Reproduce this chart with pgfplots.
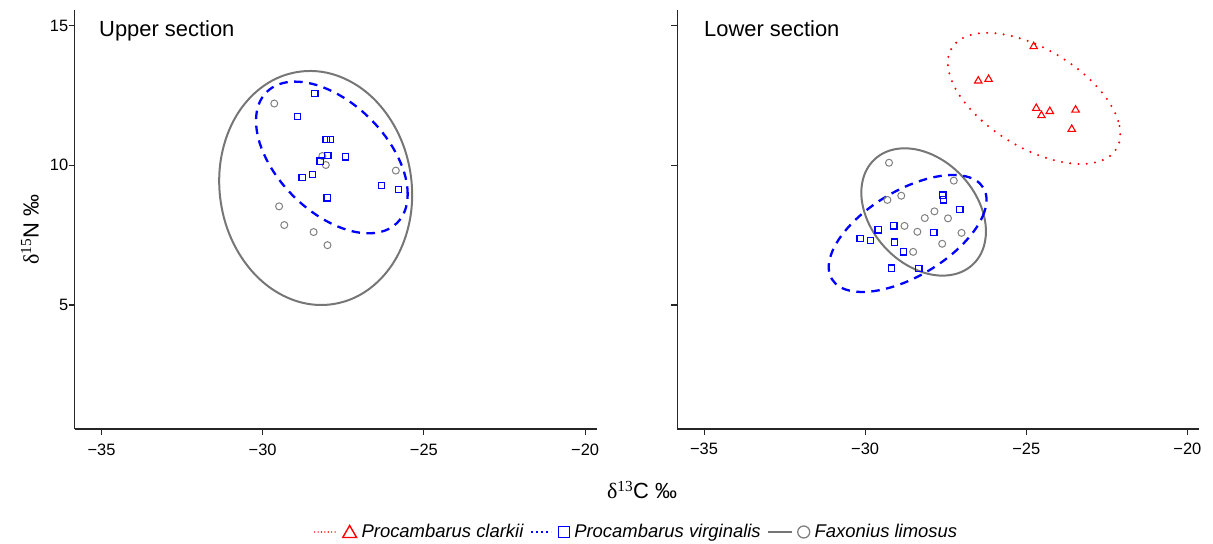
\documentclass[border=0pt]{standalone}
\usepackage{fontspec}
\setmainfont{Liberation Sans}
\newfontfamily\symfont{Liberation Serif}
\usepackage{pgfplots}
\pgfplotsset{compat=1.18}
\definecolor{pblue}{RGB}{0,0,255}
\definecolor{pred}{RGB}{255,0,0}
\definecolor{fgray}{RGB}{128,128,128}
\definecolor{egray}{RGB}{118,118,118}

\tikzset{sect title/.style={anchor=base west, inner sep=0pt, font=\fontsize{22}{26}\selectfont}}

\pgfplotsset{
  panel/.style={
    scale only axis, width=522bp, height=418.5bp,
    xmin=-35.83, xmax=-19.64, ymin=0.56, ymax=15.54,
    axis x line*=bottom, axis y line*=left,
    axis line style={-, line width=1.4bp, black!85},
    tick align=outside, major tick length=6bp,
    every tick/.style={black!85, line width=1.1bp},
    xtick={-35,-30,-25,-20}, xticklabels={−35,−30,−25,−20},
    ytick={5,10,15},
    tick label style={font=\fontsize{16.5}{19}\selectfont},
    xticklabel style={yshift=-5bp},
    yticklabel style={xshift=3bp},
    /pgf/number format/assume math mode=true,
    clip=false,
  },
  ell gray/.style={egray, line width=2bp, smooth cycle, tension=0.64, mark=none, forget plot},
  ell blue/.style={pblue, line width=2.3bp, dash pattern=on 8.5bp off 6.5bp, smooth cycle, tension=0.64, mark=none, forget plot},
  ell red/.style={pred, line width=2.3bp, line cap=round, dash pattern=on 0bp off 8.3bp, smooth cycle, tension=0.64, mark=none, forget plot},
  pts gray/.style={only marks, mark=o, mark size=3.5bp, fgray, line width=1bp, forget plot},
  pts blue/.style={only marks, mark=square, mark size=3.1bp, pblue, line width=1.2bp, forget plot},
  pts red/.style={only marks, mark=triangle, mark size=4.3bp, pred, line width=1.1bp, forget plot},
}

\begin{document}
\begin{tikzpicture}
\useasboundingbox (-74.7bp,-115bp) rectangle (1138.3bp,429bp);

% upper section
\begin{axis}[panel, at={(0bp,0bp)}, anchor=south west,
    yticklabels={5,10,15},
    ylabel={{\symfont δ}\textsuperscript{\symfont 15}N ‰},
    every axis y label/.style={at={(axis description cs:-0.0856,0.4767)}, rotate=90, anchor=center, font=\fontsize{22}{26}\selectfont},
    xlabel={{\symfont δ}\textsuperscript{\symfont 13}C ‰},
    every axis x label/.style={at={(axis description cs:1.0868,-0.1458)}, anchor=center, font=\fontsize{22}{26}\selectfont},
    legend style={at={(axis description cs:1.0762,-0.2461)}, anchor=center, draw=none, fill=none,
      legend columns=-1, font=\fontsize{18.5}{22}\selectfont,
      /tikz/every odd column/.append style={column sep=3bp},
      /tikz/every even column/.append style={column sep=4bp}},
  ]
  \addplot[ell gray] coordinates {
    (-28.887,13.344) (-27.344,13.038) (-26.072,11.700) (-25.412,9.688)
    (-25.541,7.543) (-26.424,5.838) (-27.825,5.030) (-29.368,5.337)
    (-30.641,6.675) (-31.300,8.686) (-31.172,10.832) (-30.288,12.537)};
  \addplot[ell blue] coordinates {
    (-25.828,7.941) (-25.503,8.944) (-25.806,10.304) (-26.659,11.658)
    (-27.832,12.642) (-29.011,12.994) (-29.880,12.617) (-30.206,11.615)
    (-29.902,10.254) (-29.049,8.900) (-27.876,7.916) (-26.698,7.565)};
  \addplot[pts gray] table {
    x y
    -29.64 12.21
    -28.15 10.33
    -28.04 10.01
    -25.87 9.81
    -29.49 8.53
    -29.33 7.86
    -28.42 7.61
    -27.99 7.14
  };
  \addplot[pts blue] table {
    x y
    -28.38 12.56
    -28.92 11.74
    -28.03 10.93
    -27.90 10.93
    -27.98 10.34
    -27.44 10.30
    -28.22 10.15
    -28.46 9.66
    -28.78 9.57
    -26.32 9.28
    -25.78 9.14
    -28.00 8.83
  };
  \node[sect title] at (rel axis cs:0.0466,0.939) {Upper section};

  \addlegendimage{pred,
    legend image code/.code={
      \draw[pred, line width=1.6bp, line cap=round, dash pattern=on 0bp off 3.4bp] (0bp,0bp) -- (22bp,0bp);
      \draw[pred, line width=1.4bp] plot[only marks, mark=triangle, mark size=8bp] coordinates {(35bp,-1.5bp)};}}
  \addlegendentry{\textit{Procambarus clarkii}}
  \addlegendimage{pblue,
    legend image code/.code={
      \draw[pblue, line width=2bp, dash pattern=on 2.5bp off 2.5bp] (0bp,0bp) -- (20bp,0bp);
      \draw[pblue, line width=1.4bp] plot[only marks, mark=square, mark size=5.5bp] coordinates {(33bp,0bp)};}}
  \addlegendentry{\textit{Procambarus virginalis}}
  \addlegendimage{fgray,
    legend image code/.code={
      \draw[egray, line width=2bp] (0bp,0bp) -- (24bp,0bp);
      \draw[fgray, line width=1.3bp] plot[only marks, mark=o, mark size=6bp] coordinates {(36bp,0bp)};}}
  \addlegendentry{\textit{Faxonius limosus}}
\end{axis}

% lower section
\begin{axis}[panel, at={(602.6bp,0bp)}, anchor=south west, width=521.7bp,
    yticklabels={},
  ]
  \addplot[ell red] coordinates {
    (-22.202,10.591) (-22.148,11.584) (-22.792,12.794) (-23.963,13.896)
    (-25.348,14.595) (-26.574,14.704) (-27.314,14.193) (-27.369,13.200)
    (-26.724,11.991) (-25.553,10.888) (-24.168,10.190) (-22.943,10.080)};
  \addplot[ell gray] coordinates {
    (-26.662,6.445) (-26.271,7.338) (-26.393,8.497) (-26.994,9.610)
    (-27.916,10.380) (-28.909,10.600) (-29.708,10.211) (-30.100,9.318)
    (-29.978,8.160) (-29.376,7.046) (-28.455,6.277) (-27.462,6.056)};
  \addplot[ell blue] coordinates {
    (-26.331,9.191) (-26.305,8.317) (-26.916,7.241) (-28.000,6.248)
    (-29.267,5.608) (-30.377,5.489) (-31.033,5.925) (-31.059,6.799)
    (-30.449,7.876) (-29.364,8.868) (-28.098,9.509) (-26.987,9.627)};
  \addplot[pts red] table {
    x y
    -24.77 14.25
    -26.49 13.02
    -26.17 13.08
    -24.69 12.04
    -24.27 11.93
    -24.53 11.78
    -23.47 11.98
    -23.59 11.29
  };
  \addplot[pts gray] table {
    x y
    -29.26 10.09
    -27.25 9.45
    -28.88 8.91
    -29.31 8.76
    -27.85 8.35
    -28.15 8.11
    -27.43 8.10
    -28.78 7.83
    -28.38 7.62
    -27.01 7.58
    -27.61 7.19
    -28.51 6.90
  };
  \addplot[pts blue] table {
    x y
    -27.59 8.93
    -27.56 8.76
    -27.06 8.42
    -29.11 7.83
    -29.60 7.69
    -27.87 7.59
    -30.16 7.37
    -29.84 7.30
    -29.09 7.25
    -28.81 6.90
    -29.18 6.32
    -28.33 6.31
  };
  \node[sect title] at (rel axis cs:0.0512,0.939) {Lower section};
\end{axis}
\end{tikzpicture}
\end{document}
